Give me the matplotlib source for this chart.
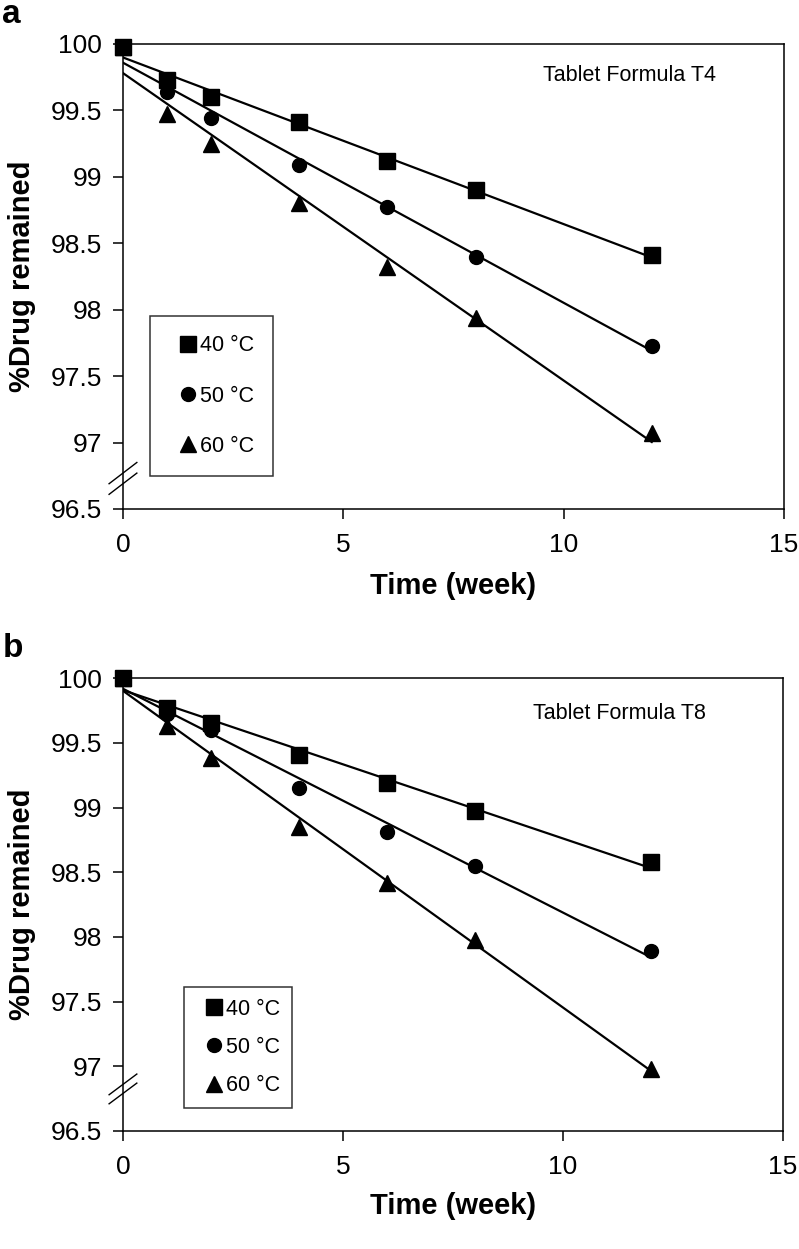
import matplotlib
matplotlib.use("Agg")
import matplotlib.pyplot as plt
import numpy as np

plt.rcParams['font.family'] = ['Liberation Sans', 'DejaVu Sans']

# sampling times (weeks)
weeks = [0, 1, 2, 4, 6, 8, 12]
temps = ["40 °C", "50 °C", "60 °C"]
markers = ["s", "o", "^"]
msizes = [11, 10, 11]

# panel a - tablet formula T4
t4_40 = [99.98, 99.73, 99.60, 99.41, 99.12, 98.90, 98.41]
t4_50 = [99.98, 99.64, 99.44, 99.09, 98.77, 98.40, 97.73]
t4_60 = [99.98, 99.47, 99.25, 98.80, 98.32, 97.94, 97.07]

# panel b - tablet formula T8
t8_40 = [100.0, 99.77, 99.65, 99.41, 99.19, 98.97, 98.58]
t8_50 = [100.0, 99.72, 99.60, 99.15, 98.81, 98.55, 97.89]
t8_60 = [100.0, 99.63, 99.38, 98.85, 98.42, 97.98, 96.98]

xticks = [0, 5, 10, 15]
yticks = [96.5, 97, 97.5, 98, 98.5, 99, 99.5, 100]
ytick_labels = ["96.5", "97", "97.5", "98", "98.5", "99", "99.5", "100"]

fig = plt.figure(figsize=(7.99, 12.49), dpi=100)


def draw_panel(rect, series, title, title_xy, break_y, leg_anchor, leg_spacing, leg_pad):
    ax = fig.add_axes(rect)
    x = np.array(weeks)
    for vals, m, ms, lab in zip(series, markers, msizes, temps):
        y = np.array(vals)
        # linear fit line through each temperature series
        k, b = np.polyfit(x, y, 1)
        xl = np.array([x[0], x[-1]])
        ax.plot(xl, k * xl + b, color="black", lw=1.6, zorder=2)
        ax.plot(x, y, linestyle="none", marker=m, ms=ms, color="black",
                label=lab, zorder=3, clip_on=False)

    ax.set_xlim(0, 15)
    ax.set_ylim(96.5, 100)
    ax.set_xticks(xticks)
    ax.set_yticks(yticks)
    ax.set_yticklabels(ytick_labels)
    ax.tick_params(direction="out", length=7, width=1.1, labelsize=19)
    ax.tick_params(axis="x", pad=10)
    ax.tick_params(axis="y", pad=8)
    for s in ax.spines.values():
        s.set_linewidth(1.1)

    ax.set_xlabel("Time (week)", fontsize=21, fontweight="bold")
    ax.set_ylabel("%Drug remained", fontsize=21, fontweight="bold")
    ax.xaxis.set_label_coords(0.5, -0.135)
    ax.yaxis.set_label_coords(-0.132, 0.5)

    ax.text(title_xy[0], title_xy[1], title, transform=ax.transAxes,
            fontsize=15.5, ha="left", va="center")

    # axis break marks
    tr = ax.get_yaxis_transform()
    for yc in break_y:
        ax.plot([-0.021, 0.021], [yc - 0.08, yc + 0.08], color="black",
                lw=1.0, transform=tr, clip_on=False)

    leg = ax.legend(loc="lower left", bbox_to_anchor=leg_anchor,
                    fontsize=15.5, frameon=True, fancybox=False,
                    edgecolor="black", handlelength=1.7, handletextpad=-0.3,
                    labelspacing=leg_spacing, borderpad=leg_pad,
                    borderaxespad=0, markerscale=1.0)
    leg.get_frame().set_linewidth(1.1)
    return ax


draw_panel([0.1539, 0.5925, 0.8273, 0.3723], [t4_40, t4_50, t4_60],
           "Tablet Formula T4", (0.635, 0.933), [96.77, 96.69],
           (0.041, 0.071), 1.35, 0.9)
draw_panel([0.1539, 0.0945, 0.8260, 0.3625], [t8_40, t8_50, t8_60],
           "Tablet Formula T8", (0.621, 0.923), [96.86, 96.79],
           (0.092, 0.051), 0.8, 0.55)

fig.text(0.003, 1 - 23 / 1249, "a", fontsize=24, fontweight="bold",
         ha="left", va="baseline")
fig.text(0.003, 1 - 657 / 1249, "b", fontsize=24, fontweight="bold",
         ha="left", va="baseline")

fig.savefig("out.png", dpi=100)
